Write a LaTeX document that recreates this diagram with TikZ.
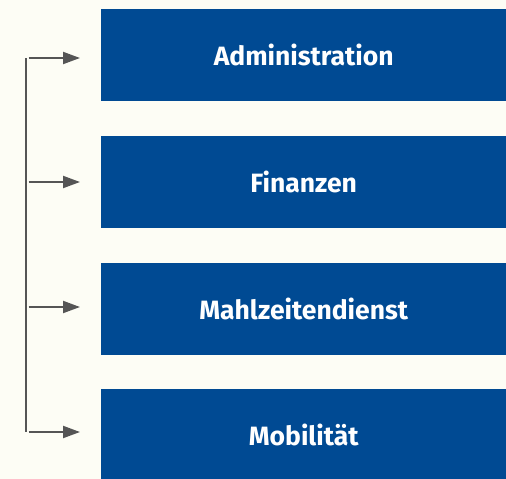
\documentclass[tikz,border=0pt]{standalone}
\usepackage{fontspec}
\setmainfont{Fira Sans}
\usetikzlibrary{arrows.meta}
\definecolor{bgcream}{HTML}{FDFDF5}
\definecolor{boxblue}{HTML}{004A93}
\definecolor{linegray}{HTML}{555555}
\begin{document}
\begin{tikzpicture}[x=1pt,y=-1pt,
  unitbox/.style={fill=boxblue, draw=none, minimum width=405pt, minimum height=92pt, inner sep=0pt, anchor=north west,
    text=white, font=\fontsize{26.5}{30}\selectfont\bfseries},
  trunk/.style={draw=linegray, line width=2pt},
  branch/.style={draw=linegray, line width=2pt, -{Triangle[length=17pt,width=12pt]}}]
\fill[bgcream] (0,0) rectangle (506,479);
\useasboundingbox (0,0) rectangle (506,479);
\node[unitbox] (b1) at (101,9) {Administration};
\node[unitbox] (b2) at (101,136) {Finanzen};
\node[unitbox] (b3) at (101,263) {Mahlzeitendienst};
\node[unitbox] (b4) at (101,389) {Mobilität};
\coordinate (t1) at (25.5,58);
\coordinate (t2) at (25.5,182);
\coordinate (t3) at (25.5,307);
\coordinate (t4) at (25.5,432);
\coordinate (e1) at (80,58);
\coordinate (e2) at (80,182);
\coordinate (e3) at (80,307);
\coordinate (e4) at (80,432);
\draw[trunk] (t1) -- (t4);
\foreach \i in {1,...,4}{
  \draw[branch] ([xshift=3pt]t\i) -- (e\i);
}
\end{tikzpicture}
\end{document}
